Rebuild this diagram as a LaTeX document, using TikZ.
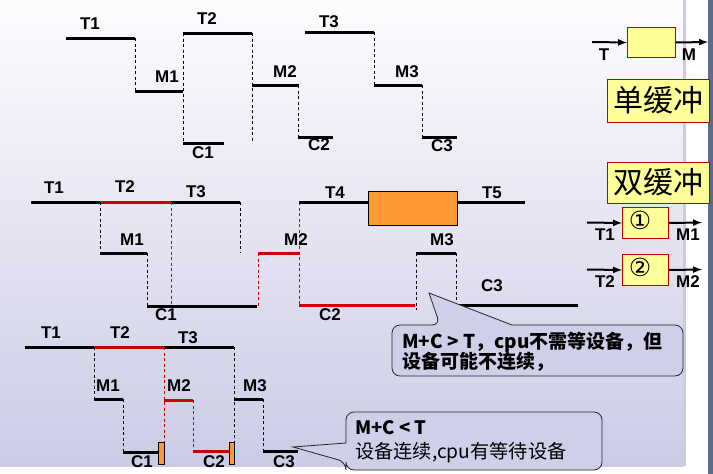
\documentclass[tikz,border=0pt]{standalone}
\usepackage{fontspec}
\setmainfont{Liberation Sans}
\newfontfamily\cjk{Noto Sans CJK SC}
\newfontfamily\symfont{DejaVu Sans}
\usetikzlibrary{arrows, positioning}
\usepackage{xcolor}
\definecolor{bgtop}{RGB}{253,253,255}
\definecolor{bgbottom}{RGB}{203,203,229}
\definecolor{linered}{RGB}{204,0,0}
\definecolor{busycolor}{RGB}{255,153,51}
\definecolor{bufcolor}{RGB}{255,255,153}
\definecolor{bufborder}{RGB}{192,0,0}
\definecolor{notecolor}{RGB}{207,207,233}
\definecolor{barcolor}{RGB}{96,106,140}

\begin{document}
\begin{tikzpicture}[x=1pt,y=-1pt]
  \tikzset{
    level/.style={line width=3pt, black},
    redlevel/.style={line width=3pt, linered},
    jump/.style={line width=0.8pt, dash pattern=on 3pt off 2.5pt, black},
    redjump/.style={jump, linered},
    lbl/.style={font=\fontsize{17}{17}\selectfont\bfseries, inner sep=0pt},
    busy/.style={draw, fill=busycolor, line width=0.8pt, inner sep=0pt, anchor=north west},
    buf/.style={draw=bufborder, fill=bufcolor, line width=1pt, inner sep=0pt},
    flow/.style={line width=2pt, -latex},
    note/.style={draw=black!85, fill=notecolor, line width=0.8pt},
    notetext/.style={inner sep=0pt, anchor=west}
  }
  \useasboundingbox (0,0) rectangle (713,474);

  % Background
  \shade[top color=bgtop, bottom color=bgbottom] (0,0) rectangle (683,466);
  \fill[bgbottom] (683,0) rectangle (686,466);
  \fill[barcolor] (708,0) rectangle (713,474);

  % Single buffer timing
  \draw[level] (66,38) -- (135,38);
  \draw[jump] (135,38) -- (135,91);
  \draw[level] (135,91) -- (183,91);
  \draw[jump] (183,33) -- (183,143);
  \draw[level] (183,33) -- (252,33);
  \draw[level] (183,143) -- (224,143);
  \draw[jump] (252,33) -- (252,143);
  \draw[level] (252,85) -- (299,85);
  \draw[jump] (298,85) -- (298,137);
  \draw[level] (298,137) -- (333,137);
  \draw[level] (305,32) -- (374,32);
  \draw[jump] (374,32) -- (374,85);
  \draw[level] (374,85) -- (422,85);
  \draw[jump] (422,85) -- (422,137);
  \draw[level] (422,137) -- (457,137);

  \node[lbl] (s-t1) at (90,24) {T1};
  \node[lbl] (s-m1) at (167,77) {M1};
  \node[lbl] (s-t2) at (207,19) {T2};
  \node[lbl] (s-c1) at (203,153) {C1};
  \node[lbl] (s-m2) at (285,72) {M2};
  \node[lbl] (s-c2) at (319,145) {C2};
  \node[lbl] (s-t3) at (329,22) {T3};
  \node[lbl] (s-m3) at (407,72) {M3};
  \node[lbl] (s-c3) at (442,146) {C3};

  % Double buffer, M+C > T
  \draw[level] (31,202) -- (100,202);
  \draw[redlevel] (100,202) -- (171,202);
  \draw[level] (171,202) -- (240,202);
  \draw[jump] (100,202) -- (100,253);
  \draw[level] (100,253) -- (147,253);
  \draw[jump] (147,253) -- (147,306);
  \draw[level] (147,306) -- (257,306);
  \draw[redjump] (171,202) -- (171,306);
  \draw[jump] (240,202) -- (240,253);
  \draw[redjump] (258,253) -- (258,306);
  \draw[redlevel] (258,253) -- (299,253);
  \draw[redjump] (299,202) -- (299,306);
  \draw[level] (299,202) -- (368,202);
  \node[busy, minimum width=89pt, minimum height=34pt] (wait) at (368,191) {};
  \draw[level] (457,202) -- (525,202);
  \draw[redlevel] (299,305) -- (415,305);
  \draw[jump] (416,253) -- (416,310);
  \draw[level] (416,253) -- (456,253);
  \draw[jump] (456,253) -- (456,305);
  \draw[level] (456,305) -- (578,305);

  \node[lbl] (a-t1) at (54,188) {T1};
  \node[lbl] (a-t2) at (125,187) {T2};
  \node[lbl] (a-t3) at (196,192) {T3};
  \node[lbl] (a-m1) at (132,240) {M1};
  \node[lbl] (a-c1) at (166,315) {C1};
  \node[lbl] (a-m2) at (296,240) {M2};
  \node[lbl] (a-t4) at (335,193) {T4};
  \node[lbl] (a-t5) at (492,193) {T5};
  \node[lbl] (a-c2) at (330,315) {C2};
  \node[lbl] (a-m3) at (442,240) {M3};
  \node[lbl] (a-c3) at (492,286) {C3};

  % Double buffer, M+C < T
  \draw[level] (25,347) -- (94,347);
  \draw[redlevel] (94,347) -- (164,347);
  \draw[level] (164,347) -- (234,347);
  \draw[jump] (94,347) -- (94,399);
  \draw[level] (94,399) -- (123,399);
  \draw[jump] (123,399) -- (123,452);
  \draw[level] (123,452) -- (158,452);
  \node[busy, minimum width=6pt, minimum height=22pt] (wait1) at (158,442) {};
  \draw[redjump] (164,347) -- (164,442);
  \draw[redlevel] (164,400) -- (193,400);
  \draw[redjump] (193,400) -- (193,451);
  \draw[redlevel] (193,451) -- (229,451);
  \node[busy, minimum width=5pt, minimum height=22pt] (wait2) at (229,442) {};
  \draw[jump] (234,347) -- (234,442);
  \draw[level] (234,399) -- (263,399);
  \draw[jump] (263,399) -- (263,451);
  \draw[level] (263,451) -- (298,451);

  \node[lbl] (b-t1) at (51,333) {T1};
  \node[lbl] (b-t2) at (120,333) {T2};
  \node[lbl] (b-t3) at (188,338) {T3};
  \node[lbl] (b-m1) at (108,386) {M1};
  \node[lbl] (b-m2) at (179,386) {M2};
  \node[lbl] (b-m3) at (255,386) {M3};
  \node[lbl] (b-c1) at (142,462) {C1};
  \node[lbl] (b-c2) at (214,462) {C2};
  \node[lbl] (b-c3) at (284,462) {C3};

  % Notes
  \draw[note] (392,350) [rounded corners=8pt] -- (392,325) -- (440,325) [sharp corners] -- (429,293) -- (512,325) [rounded corners=8pt] -- (683,325) -- (683,376) -- (392,376) -- cycle;
  \node[notetext, font=\cjk\bfseries\fontsize{19}{19}\selectfont] (note1a) at (402,342) {M+C > T，cpu不需等设备，但};
  \node[notetext, font=\cjk\bfseries\fontsize{19}{19}\selectfont] (note1b) at (402,362) {设备可能不连续，};

  \draw[note] (474,412) [rounded corners=8pt] -- (602,412) -- (602,470) -- (346,470) -- (346,462) [sharp corners] -- (293,447) -- (346,443) [rounded corners=8pt] -- (346,412) -- cycle;
  \node[notetext, font=\cjk\bfseries\fontsize{18.5}{18.5}\selectfont] (note2a) at (355,428) {M+C < T};
  \node[notetext, font=\cjk\fontsize{19.2}{19.2}\selectfont] (note2b) at (355,453) {设备连续,cpu有等待设备};

  % Legend
  \node[buf, minimum width=48pt, minimum height=30pt, anchor=north west] (single) at (627,27) {};
  \coordinate (single-in) at (592,42);
  \coordinate (single-out) at (708,42);
  \draw[flow] (single-in) -- (single.west);
  \draw[flow] (single.east) -- (single-out);
  \node[lbl] (l-t) at (604,55) {T};
  \node[lbl] (l-m) at (689,55) {M};

  \node[buf, minimum width=102pt, minimum height=43pt, font=\cjk\fontsize{30}{30}\selectfont] (single-name) at (658,100.5) {单缓冲};
  \node[buf, minimum width=102pt, minimum height=41pt, font=\cjk\fontsize{30}{30}\selectfont] (double-name) at (658,182.5) {双缓冲};

  \node[buf, minimum width=46pt, minimum height=31pt, anchor=north west] (buf1) at (622,207) {};
  \node[font=\symfont\fontsize{25}{25}\selectfont, inner sep=0pt] (buf1-txt) at (640,220) {①};
  \coordinate (buf1-in) at (587,222.5);
  \coordinate (buf1-out) at (702,222.5);
  \draw[flow] (buf1-in) -- (buf1.west);
  \draw[flow] (buf1.east) -- (buf1-out);
  \node[lbl] (l-t1) at (605,235) {T1};
  \node[lbl] (l-m1) at (688,235) {M1};

  \node[buf, minimum width=46pt, minimum height=31pt, anchor=north west] (buf2) at (622,254) {};
  \node[font=\symfont\fontsize{25}{25}\selectfont, inner sep=0pt] (buf2-txt) at (640,267) {②};
  \coordinate (buf2-in) at (587,269.5);
  \coordinate (buf2-out) at (702,269.5);
  \draw[flow] (buf2-in) -- (buf2.west);
  \draw[flow] (buf2.east) -- (buf2-out);
  \node[lbl] (l-t2) at (605,282) {T2};
  \node[lbl] (l-m2) at (688,282) {M2};
\end{tikzpicture}
\end{document}
